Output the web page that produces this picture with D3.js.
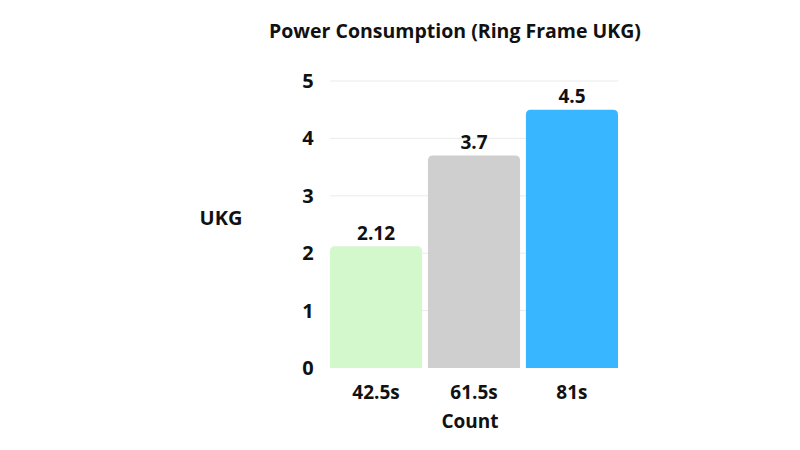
<!DOCTYPE html>
<html>
<head>
<meta charset="utf-8">
<script src="https://cdn.jsdelivr.net/npm/d3@7"></script>
<style>
  body { margin: 0; background: #fff; }
  text { font-family: "Open Sans", sans-serif; font-weight: 700; fill: #111; }
</style>
</head>
<body>
<div id="chart"></div>
<script>
// data
var categories = ["42.5s", "61.5s", "81s"];
var values = [2.12, 3.7, 4.5];
var labels = ["2.12", "3.7", "4.5"];
var colors = ["#d3f8cb", "#cfcfcf", "#38b6ff"];
var yTicks = [0, 1, 2, 3, 4, 5];

var W = 800, H = 450;
var margin = {top: 81, right: 182, bottom: 82, left: 330},
    width = W - margin.left - margin.right,
    height = H - margin.top - margin.bottom;

var svg = d3.select("#chart").append("svg")
    .attr("width", W)
    .attr("height", H);

var g = svg.append("g")
    .attr("transform", "translate(" + margin.left + "," + margin.top + ")");

var x = d3.scaleBand()
    .domain(categories)
    .range([0, width])
    .paddingInner(0.06)
    .paddingOuter(0);

var y = d3.scaleLinear()
    .domain([0, 5])
    .range([height, 0]);

// gridlines
g.selectAll(".grid").data(yTicks.slice(1)).enter()
  .append("line")
    .attr("x1", 0).attr("x2", width)
    .attr("y1", function(d) { return y(d); })
    .attr("y2", function(d) { return y(d); })
    .attr("stroke", "#ebebeb")
    .attr("stroke-width", 1);

// y tick labels
g.selectAll(".ytick").data(yTicks).enter()
  .append("text")
    .attr("x", -22)
    .attr("y", function(d) { return y(d); })
    .attr("dy", "0.35em")
    .attr("text-anchor", "middle")
    .style("font-size", "20px")
    .text(function(d) { return d; });

// bars with rounded top corners
function barPath(x0, y0, w, h, r) {
  r = Math.min(r, h);
  return "M" + x0 + "," + (y0 + h) +
    "V" + (y0 + r) +
    "Q" + x0 + "," + y0 + " " + (x0 + r) + "," + y0 +
    "H" + (x0 + w - r) +
    "Q" + (x0 + w) + "," + y0 + " " + (x0 + w) + "," + (y0 + r) +
    "V" + (y0 + h) + "Z";
}

var data = categories.map(function(c, i) { return {cat: c, value: values[i], label: labels[i], color: colors[i]}; });

g.selectAll(".bar").data(data).enter()
  .append("path")
    .attr("d", function(d) { return barPath(x(d.cat), y(d.value), x.bandwidth(), height - y(d.value), 5); })
    .attr("fill", function(d) { return d.color; });

g.selectAll(".val").data(data).enter()
  .append("text")
    .attr("x", function(d) { return x(d.cat) + x.bandwidth() / 2; })
    .attr("y", function(d) { return y(d.value) - 13; })
    .attr("dy", "0.35em")
    .attr("text-anchor", "middle")
    .style("font-size", "19px")
    .text(function(d) { return d.label; });

// x tick labels
g.selectAll(".xtick").data(categories).enter()
  .append("text")
    .attr("x", function(d) { return x(d) + x.bandwidth() / 2; })
    .attr("y", height + 24)
    .attr("dy", "0.35em")
    .attr("text-anchor", "middle")
    .style("font-size", "19px")
    .text(function(d) { return d; });

// axis titles
svg.append("text")
  .attr("x", 470).attr("y", 421)
  .attr("dy", "0.35em")
  .attr("text-anchor", "middle")
  .style("font-size", "19px")
  .text("Count");

svg.append("text")
  .attr("x", 221).attr("y", 218)
  .attr("dy", "0.35em")
  .attr("text-anchor", "middle")
  .style("font-size", "20px")
  .text("UKG");

svg.append("text")
  .attr("x", 455).attr("y", 31)
  .attr("dy", "0.35em")
  .attr("text-anchor", "middle")
  .style("font-size", "19.5px")
  .text("Power Consumption (Ring Frame UKG)");
</script>
</body>
</html>
